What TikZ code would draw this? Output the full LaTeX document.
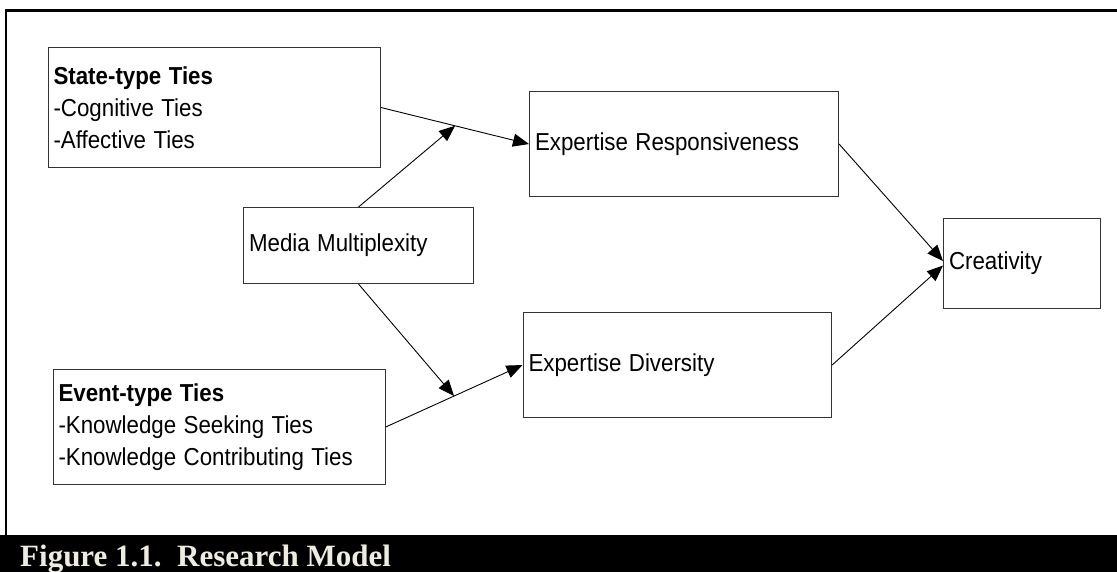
\documentclass[tikz,border=0pt]{standalone}
\usepackage{fontspec}
\usepackage{graphicx}
\setmainfont{Liberation Sans}
\newfontfamily\capfont{Liberation Serif}
\usetikzlibrary{arrows.meta,calc}

\definecolor{boxline}{HTML}{333333}
\definecolor{captext}{HTML}{EEECE0}

% labels are set slightly taller than the plain font
\newcommand\tall[1]{\scalebox{1}[1.1]{#1}}

\tikzset{
  varbox/.style={draw=boxline, line width=1.1pt, rectangle, anchor=north west,
    inner xsep=5.5pt, inner ysep=0pt, align=left,
    font=\fontsize{22.3}{31.7}\selectfont},
  path/.style={draw=black, line width=0.9pt, -{Triangle[length=16pt,width=13pt]}},
}

\begin{document}
\begin{tikzpicture}[x=1pt,y=-1pt]
  \useasboundingbox (0,0) rectangle (1117,572);

  % outer frame and caption band
  \draw[line width=2.2pt] (6,536) -- (6,10.5) -- (1118,10.5);
  \fill[black] (0,535) rectangle (1117,572);
  \node[anchor=base west, inner sep=0pt, text=captext,
        font=\capfont\bfseries\fontsize{31}{31}\selectfont] (caption) at (20,566)
        {Figure 1.1.\ \ Research Model};

  % constructs
  \node[varbox, minimum width=332.5pt, minimum height=120pt, text width=321.5pt] (state) at (47.5,47)
    {\tall{\textbf{State-type Ties}}\\\tall{-Cognitive Ties}\\\tall{-Affective Ties}};
  \node[varbox, minimum width=230pt, minimum height=76pt, text width=219pt] (media) at (243,207)
    {\tall{Media Multiplexity}};
  \node[varbox, minimum width=309pt, minimum height=105pt, text width=298pt] (resp) at (529,91)
    {\tall{Expertise Responsiveness}};
  \node[varbox, minimum width=157pt, minimum height=90pt, text width=146pt] (creat) at (943,218)
    {\tall{Creativity}};
  \node[varbox, minimum width=308.5pt, minimum height=105pt, text width=297.5pt] (div) at (522.5,312)
    {\tall{Expertise Diversity}};
  \node[varbox, minimum width=332pt, minimum height=115pt, text width=321pt] (event) at (52.5,369)
    {\tall{\textbf{Event-type Ties}}\\\tall{-Knowledge Seeking Ties}\\\tall{-Knowledge Contributing Ties}};

  % moderation points on the main paths
  \coordinate (j1) at ($(state.east)!0.5!(resp.west)$);
  \coordinate (j2) at ($(event.east)!0.5!(div.west)$);
  \coordinate (cin1) at ([yshift=2.5pt]creat.west);
  \coordinate (cin2) at ([yshift=-2pt]creat.west);

  % paths
  \draw[path] (state.east) -- (resp.west);
  \draw[path] (event.east) -- (div.west);
  \draw[path] (media.north) -- (j1);
  \draw[path] (media.south) -- (j2);
  \draw[path] (resp.east) -- (cin1);
  \draw[path] (div.east) -- (cin2);
\end{tikzpicture}
\end{document}
